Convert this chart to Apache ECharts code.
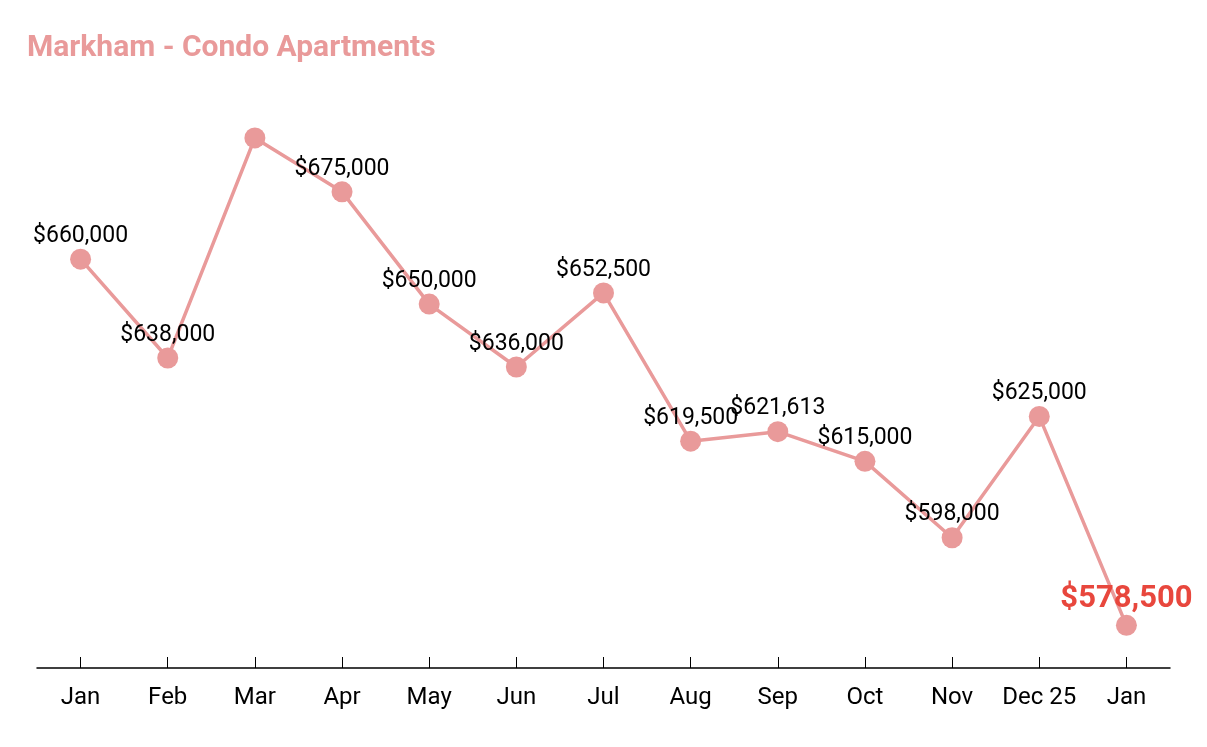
<!DOCTYPE html>
<html>
<head>
<meta charset="utf-8">
<script src="https://cdn.jsdelivr.net/npm/echarts@6/dist/echarts.min.js"></script>
<style>
  html, body { margin: 0; padding: 0; background: #fff; }
  #main { width: 1207px; height: 747px; }
</style>
</head>
<body>
<div id="main"></div>
<script>
// data
var months = ['Jan', 'Feb', 'Mar', 'Apr', 'May', 'Jun', 'Jul', 'Aug', 'Sep', 'Oct', 'Nov', 'Dec 25', 'Jan'];
var prices = [660000, 638000, 687000, 675000, 650000, 636000, 652500, 619500, 621613, 615000, 598000, 625000, 578500];
var hiddenLabels = [2]; // Mar has no label in the original

var pink = '#e99a9a';

function money(v) {
  return '$' + v.toString().replace(/\B(?=(\d{3})+(?!\d))/g, ',');
}

var points = prices.map(function (v, i) {
  var p = { value: v };
  if (hiddenLabels.indexOf(i) >= 0) p.label = { show: false };
  if (i === prices.length - 1) {
    p.label = { fontSize: 31, fontWeight: 'bold', color: '#e8473d', distance: 0 };
  }
  return p;
});

var chart = echarts.init(document.getElementById('main'));
chart.setOption({
  animation: false,
  textStyle: { fontFamily: 'Roboto' },
  title: {
    text: 'Markham - Condo Apartments',
    left: 22,
    top: 28,
    textStyle: { color: pink, fontSize: 30, fontWeight: 'bold', fontFamily: 'Roboto' }
  },
  grid: { left: 37, right: 37, top: 84, bottom: 79 },
  xAxis: {
    type: 'category',
    data: months,
    axisLine: { lineStyle: { color: '#000', width: 1.5 } },
    axisTick: { show: true, alignWithLabel: true, inside: true, length: 11, lineStyle: { color: '#000', width: 1 } },
    axisLabel: { color: '#000', fontSize: 24, margin: 18, interval: 0 }
  },
  yAxis: {
    type: 'value',
    min: 569000,
    max: 699000,
    show: false
  },
  series: [{
    type: 'line',
    data: points,
    symbol: 'circle',
    symbolSize: 21,
    itemStyle: { color: pink },
    lineStyle: { color: pink, width: 3.5 },
    label: {
      show: true,
      position: 'top',
      distance: 1,
      color: '#000',
      fontSize: 23,
      formatter: function (p) { return money(p.value); }
    }
  }]
});
</script>
</body>
</html>
